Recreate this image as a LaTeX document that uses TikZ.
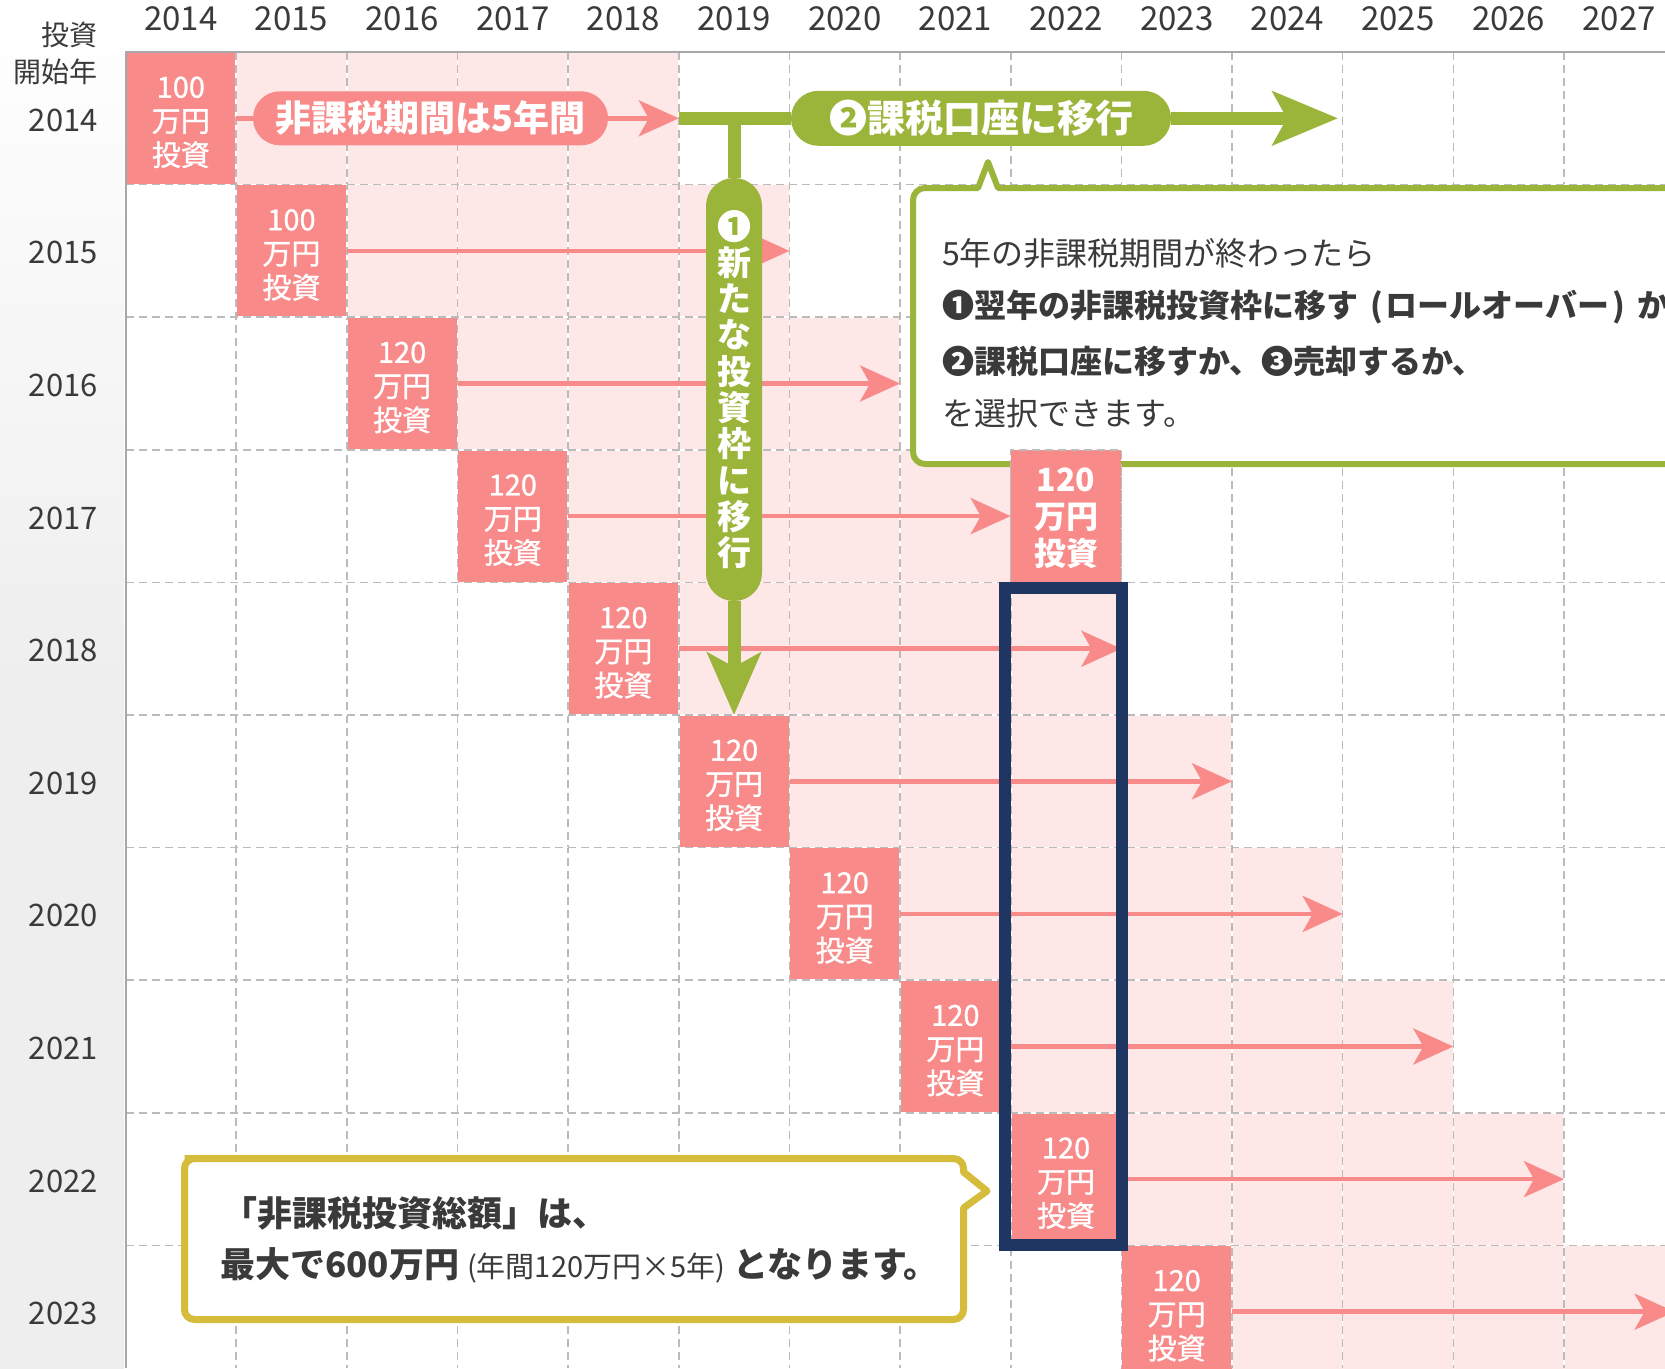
\documentclass[tikz,border=0pt]{standalone}
\usepackage{fontspec}
\setmainfont{Noto Sans CJK JP}
\newfontfamily\medfont{Noto Sans CJK JP}[FakeBold=1.1]
\usetikzlibrary{arrows.meta}
\definecolor{pinkd}{HTML}{F98A8A}
\definecolor{pinkl}{HTML}{FDE7E7}
\definecolor{greenc}{HTML}{9BB53A}
\definecolor{yellowc}{HTML}{D5BD3B}
\definecolor{navyc}{HTML}{1F3562}
\definecolor{gridc}{HTML}{BBBBBB}
\definecolor{borderc}{HTML}{A8A8A8}
\definecolor{txtc}{HTML}{3A3A3A}
\definecolor{bgc}{HTML}{EEEEEE}
\newcommand\fsz[2]{\fontsize{#1}{#2}\selectfont}
\begin{document}
\begin{tikzpicture}[x=1pt,y=-1pt,
  invbox/.style={fill=pinkd, minimum width=110.65pt, minimum height=132.6pt, inner sep=0pt},
  boxtext/.style={inner sep=0pt, text=white, align=center, font=\medfont\fsz{29}{34}},
  gridw/.style={draw=white, line width=1.6pt},
  gridd/.style={draw=gridc, line width=1.6pt, dash pattern=on 8pt off 5pt},
  pinkline/.style={draw=pinkd, line width=4.5pt},
  pinkarrow/.style={pinkline, -{Stealth[length=40pt,width=36pt,inset=10pt]}},
  pinkpill/.style={fill=pinkd, rounded corners=26.9pt, minimum width=355pt, minimum height=54pt, inner sep=0pt, text=white, font=\bfseries\fsz{36}{36}},
  greenpill/.style={fill=greenc, rounded corners=27.4pt, minimum width=380pt, minimum height=55pt, inner sep=0pt, text=white, font=\bfseries\fsz{38}{38}},
  greenline/.style={draw=greenc, line width=13pt},
  yeartext/.style={text=txtc, font=\fsz{33}{33}, inner sep=0pt},
  lefttext/.style={text=txtc, font=\fsz{31}{31}, inner sep=0pt, anchor=east},
  calltext/.style={text=txtc, font=\fsz{32}{32}, inner sep=0pt, anchor=west},
  ytext/.style={text=txtc, font=\bfseries\fsz{35}{35}, inner sep=0pt, anchor=west}]
\useasboundingbox (0,0) rectangle (1665,1368);
% background
\fill[white] (0,0) rectangle (1665,1368);
\shade[top color=white, bottom color=bgc, middle color=bgc] (0,0) rectangle (124,1368);
% light pink periods
\foreach \r in {0,...,9} {
  \fill[pinkl] ({125.5+(\r+1)*110.65},{52+\r*132.6}) rectangle ({125.5+(\r+5)*110.65},{52+(\r+1)*132.6});
}
% investment boxes
\foreach \r/\amt in {0/100,1/100,2/120,3/120,4/120,5/120,6/120,7/120,8/120,9/120} {
  \pgfmathsetmacro\cx{125.5+(\r+0.5)*110.65}
  \pgfmathsetmacro\cy{52+(\r+0.5)*132.6}
  \node[invbox] (b\r) at (\cx,\cy) {};
  \node[boxtext] (bt\r) at (\cx,\cy+4) {\amt\\万円\\投資};
}
% grid
\foreach \i in {1,...,13} {
  \pgfmathsetmacro\gx{125.5+\i*110.65}
  \draw[gridw] (\gx,52) -- (\gx,1368);
  \draw[gridd] (\gx,52) -- (\gx,1368);
}
\foreach \j in {1,...,9} {
  \pgfmathsetmacro\gy{52+\j*132.6}
  \draw[gridw] (125.5,\gy) -- (1665,\gy);
  \draw[gridd] (125.5,\gy) -- (1665,\gy);
}
\draw[borderc, line width=2pt] (125.5,1368) -- (125.5,52) -- (1665,52);
% header years
\foreach \i in {0,...,13} {
  \pgfmathtruncatemacro\yr{2014+\i}
  \node[yeartext] (h\i) at ({125.5+(\i+0.5)*110.65},19) {\yr};
}
\node[lefttext, font=\fsz{28}{28}] (la) at (98,35) {投資};
\node[lefttext, font=\fsz{28}{28}] (lb) at (98,72) {開始年};
\foreach \r in {0,...,9} {
  \pgfmathtruncatemacro\yr{2014+\r}
  \node[lefttext] (l\r) at (98,{52+(\r+0.5)*132.6+2}) {\yr};
}
% pink arrows
\foreach \r in {1,...,9} {
  \coordinate (t\r) at ({125.5+(\r+5)*110.65},{52+(\r+0.5)*132.6});
  \draw[pinkarrow] (b\r.east) -- (t\r);
}
% row 2014
\node[pinkpill] (p0) at (430.5,118.3) {非課税期間は5年間};
\coordinate (t0) at (678.75,118.3);
\draw[pinkline] (b0.east) -- (p0.west);
\draw[pinkarrow] (p0.east) -- (t0);
% green branches
\node[greenpill] (g2) at (981,118.3) {❷課税口座に移行};
\coordinate (gtip) at (1338,118.3);
\draw[greenline] (t0) -- (g2.west);
\draw[greenline, -{Stealth[length=65pt,width=53pt,inset=14pt]}] (g2.east) -- (gtip);
\coordinate (gj) at (734,118.3);
\node[greenpill, minimum width=56pt, minimum height=423pt, rounded corners=27.9pt, align=center, font=\bfseries\fsz{34}{36.3}] (g1) at (734,389.5) {❶\\新\\た\\な\\投\\資\\枠\\に\\移\\行};
\coordinate (gdown) at (734,715);
\draw[greenline] (gj) -- (g1.north);
\draw[greenline, -{Stealth[length=62pt,width=53pt,inset=14pt]}] (g1.south) -- (gdown);
% green callout
\draw[greenc, line width=6pt, fill=white, line join=round] (1700,188) -- (998,188) -- (988,162) -- (978,188) [rounded corners=12pt] -- (913,188) -- (913,464) -- (1700,464);
\node[calltext] (c1) at (942,253) {5年の非課税期間が終わったら};
\node[calltext, font=\bfseries\fsz{32}{32}] (c2) at (942,307) {❶翌年の非課税投資枠に移す\hspace{12pt}(\hspace{3pt}ロールオーバー\hspace{3pt})\hspace{12pt}か};
\node[calltext, font=\bfseries\fsz{32}{32}] (c3) at (942,361) {❷課税口座に移すか、❸売却するか、};
\node[calltext] (c4) at (942,413) {を選択できます。};
% rollover box
\node[invbox, draw=gridc, line width=1.6pt, dash pattern=on 8pt off 5pt] (bs) at (1066,516.1) {};
\node[boxtext, font=\bfseries\fsz{32}{37}] (bst) at (1066,518) {120\\万円\\投資};
% navy highlight
\draw[navyc, line width=12pt] (1005,588) rectangle (1122,1245);
% yellow callout
\draw[yellowc, line width=7pt, fill=white, line join=round] (184.5,1158.5) [rounded corners=10pt] -- (963.5,1158.5) [sharp corners] -- (963.5,1172) -- (987,1191) -- (963.5,1208) [rounded corners=10pt] -- (963.5,1319.5) -- (184.5,1319.5) -- (184.5,1158.5) -- (300,1158.5);
\node[ytext] (y1) at (222,1213) {「非課税投資総額」は、};
\node[ytext] (y2) at (220,1265) {最大で600万円 {\mdseries\fsz{29}{29}(年間120万円×5年)} となります。};
\end{tikzpicture}
\end{document}
